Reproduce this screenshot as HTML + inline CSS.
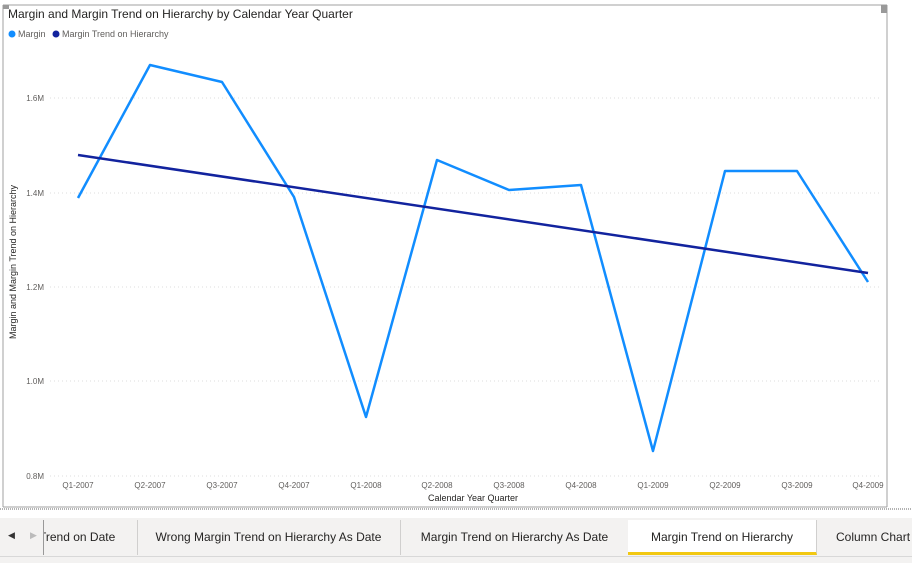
<!DOCTYPE html>
<html><head><style>
body{margin:0;width:912px;height:563px;background:#fff;font-family:"Liberation Sans",sans-serif;overflow:hidden;position:relative}
.tabs{position:absolute;left:0;top:518px;width:912px;height:45px;background:#f3f2f1}
.tab{position:absolute;top:2px;height:35px;line-height:35px;font-size:12px;color:#252423;text-align:center;border-right:1px solid #d0cfce;white-space:nowrap;overflow:hidden}
</style></head><body>
<svg width="912" height="520" style="position:absolute;left:0;top:0" font-family="Liberation Sans, sans-serif">
<line x1="3" y1="5" x2="887" y2="5" stroke="#a0a0a0"/>
<line x1="3" y1="5" x2="3" y2="507" stroke="#a0a0a0"/>
<line x1="887" y1="5" x2="887" y2="507" stroke="#a0a0a0"/>
<line x1="3" y1="507" x2="887" y2="507" stroke="#a0a0a0"/>
<line x1="0" y1="509" x2="912" y2="509" stroke="#666" stroke-dasharray="1,1"/>
<rect x="3" y="5" width="6" height="4" fill="#999"/><rect x="881" y="5" width="6" height="8" fill="#999"/>
<text x="8" y="18" font-size="12" fill="#252423">Margin and Margin Trend on Hierarchy by Calendar Year Quarter</text>
<circle cx="12" cy="34" r="3.5" fill="#118dff"/><text x="18" y="37" font-size="9" fill="#605e5c">Margin</text>
<circle cx="56" cy="34" r="3.5" fill="#12239e"/><text x="62" y="37" font-size="9" fill="#605e5c">Margin Trend on Hierarchy</text>
<g stroke="#ddd" stroke-dasharray="1,3">
<line x1="50" y1="98" x2="880" y2="98"/><line x1="50" y1="193" x2="880" y2="193"/><line x1="50" y1="287" x2="880" y2="287"/><line x1="50" y1="381" x2="880" y2="381"/><line x1="50" y1="476" x2="880" y2="476"/></g>
<g font-size="8" fill="#605e5c" text-anchor="end">
<text x="44" y="101">1.6M</text><text x="44" y="196">1.4M</text><text x="44" y="290">1.2M</text><text x="44" y="384">1.0M</text><text x="44" y="479">0.8M</text></g>
<g font-size="8" fill="#605e5c" text-anchor="middle">
<text x="78" y="488">Q1-2007</text><text x="150" y="488">Q2-2007</text><text x="222" y="488">Q3-2007</text><text x="294" y="488">Q4-2007</text><text x="366" y="488">Q1-2008</text><text x="437" y="488">Q2-2008</text><text x="509" y="488">Q3-2008</text><text x="581" y="488">Q4-2008</text><text x="653" y="488">Q1-2009</text><text x="725" y="488">Q2-2009</text><text x="797" y="488">Q3-2009</text><text x="868" y="488">Q4-2009</text>
<text x="473" y="501" font-size="9" fill="#252423">Calendar Year Quarter</text></g>
<text transform="translate(16,262) rotate(-90)" font-size="9" fill="#252423" text-anchor="middle">Margin and Margin Trend on Hierarchy</text>
<polyline fill="none" stroke="#118dff" stroke-width="2.5" stroke-linejoin="round" points="78,198 150,65 222,82 294,197 366,417 437,160 509,190 581,185 653,451 725,171 797,171 868,282"/>
<line x1="78" y1="155" x2="868" y2="273" stroke="#12239e" stroke-width="2.5"/>
</svg>
<div class="tabs">
<div style="position:absolute;left:8px;top:12px;font-size:9px;color:#333">◀</div>
<div style="position:absolute;left:30px;top:12px;font-size:9px;color:#bbb">▶</div>
<div class="tab" style="left:43px;width:93px;border-left:1px solid #999;text-align:left;text-indent:-5px">Trend on Date</div>
<div class="tab" style="left:137px;width:263px">Wrong Margin Trend on Hierarchy As Date</div>
<div class="tab" style="left:401px;width:227px">Margin Trend on Hierarchy As Date</div>
<div class="tab" style="left:628px;width:188px;background:#fff;border-bottom:3px solid #f2c811;height:32px">Margin Trend on Hierarchy</div>
<div class="tab" style="left:817px;width:110px;text-align:left;padding-left:19px;border:none">Column Chart</div>
<div style="position:absolute;left:0;top:38px;width:912px;height:1px;background:#d8d8d8"></div>
</div>
</body></html>
